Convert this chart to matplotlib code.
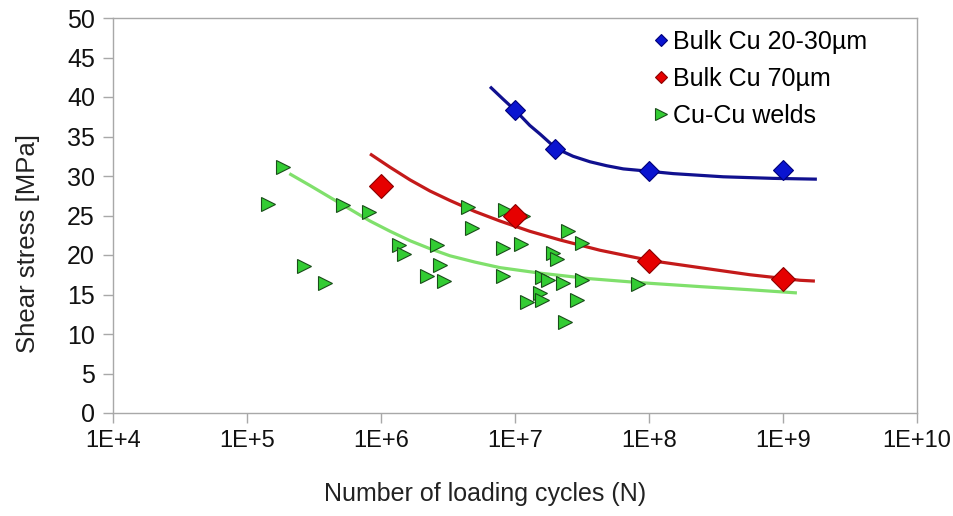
import math
import matplotlib
matplotlib.use("Agg")
import matplotlib.pyplot as plt
from matplotlib.lines import Line2D
from matplotlib.ticker import FixedLocator, FuncFormatter, NullLocator

plt.rcParams['font.family'] = ['Liberation Sans', 'DejaVu Sans']

# Measured fatigue data: cycles to failure vs. shear stress
bulk_fine_n = [1.0e7, 2.0e7, 1.0e8, 1.0e9]
bulk_fine_s = [38.3, 33.4, 30.6, 30.8]

bulk_coarse_n = [1.0e6, 1.0e7, 1.0e8, 1.0e9]
bulk_coarse_s = [28.7, 24.9, 19.3, 17.0]

welds_n = [1.44e5, 1.87e5, 2.66e5, 3.82e5, 5.23e5, 8.18e5, 1.37e6, 1.48e6,
           2.22e6, 2.60e6, 2.75e6, 2.95e6, 4.48e6, 4.80e6, 8.35e6, 8.18e6,
           8.18e6, 1.10e7, 1.14e7, 1.23e7, 1.54e7, 1.58e7, 1.59e7, 1.76e7,
           1.93e7, 2.06e7, 2.29e7, 2.36e7, 2.49e7, 2.89e7, 3.15e7, 3.15e7,
           8.32e7]
welds_s = [26.4, 31.1, 18.6, 16.5, 26.3, 25.5, 21.3, 20.1,
           17.3, 21.3, 18.7, 16.7, 26.1, 23.4, 25.7, 20.9,
           17.4, 21.4, 24.9, 14.1, 15.2, 14.3, 17.2, 16.8,
           20.3, 19.5, 16.4, 11.5, 23.1, 14.3, 21.5, 16.8,
           16.3]

# Trend curves
trend_fine_n = [6.51e6, 8.18e6, 1.02e7, 1.29e7, 1.54e7, 2.02e7, 2.71e7, 3.63e7,
                4.83e7, 6.43e7, 1.0e8, 1.52e8, 3.58e8, 8.47e8, 1.79e9]
trend_fine_s = [41.3, 39.7, 38.2, 36.4, 35.3, 33.5, 32.5, 31.8,
                31.3, 30.9, 30.6, 30.3, 29.9, 29.7, 29.6]

trend_coarse_n = [8.28e5, 1.17e6, 1.65e6, 2.32e6, 3.27e6, 5.03e6, 7.73e6,
                  1.29e7, 2.17e7, 4.31e7, 1.02e8, 2.4e8, 5.67e8, 1.34e9, 1.73e9]
trend_coarse_s = [32.8, 31.1, 29.5, 28.1, 26.9, 25.5, 24.3,
                  23.0, 21.9, 20.6, 19.3, 18.4, 17.5, 16.8, 16.7]

trend_welds_n = [2.07e5, 2.95e5, 4.16e5, 5.87e5, 8.28e5, 1.17e6, 1.65e6,
                 2.32e6, 3.27e6, 5.03e6, 7.73e6, 1.54e7, 3.63e7, 8.57e7,
                 2.4e8, 5.67e8, 1.27e9]
trend_welds_s = [30.3, 28.8, 27.3, 25.8, 24.3, 23.0, 21.8,
                 20.8, 19.9, 19.1, 18.4, 17.7, 17.0, 16.5,
                 16.0, 15.6, 15.2]

x_ticks = [1e4, 1e5, 1e6, 1e7, 1e8, 1e9, 1e10]
y_ticks = [0, 5, 10, 15, 20, 25, 30, 35, 40, 45, 50]

W, H = 954, 516
fig = plt.figure(figsize=(W / 100, H / 100), dpi=100)
ax = fig.add_axes([113 / W, 1 - 413 / H, (917 - 113) / W, (413 - 18) / H])

line_kw = dict(lw=2.3, solid_joinstyle='round', solid_capstyle='butt', zorder=2)
ax.plot(trend_welds_n, trend_welds_s, color='#80e06c', **line_kw)
ax.plot(trend_coarse_n, trend_coarse_s, color='#c41a1a', **line_kw)
ax.plot(trend_fine_n, trend_fine_s, color='#10108f', **line_kw)

green_kw = dict(marker='>', markerfacecolor='#33cc33', markeredgecolor='#1a4d1a',
                markeredgewidth=0.8, linestyle='none')
red_kw = dict(marker='D', markerfacecolor='#e60000', markeredgecolor='#8b0000',
              markeredgewidth=0.8, linestyle='none')
blue_kw = dict(marker='D', markerfacecolor='#0a14d0', markeredgecolor='#00007a',
               markeredgewidth=0.8, linestyle='none')

ax.plot(welds_n, welds_s, markersize=9.5, zorder=3, **green_kw)
ax.plot(bulk_coarse_n, bulk_coarse_s, markersize=12.5, zorder=4, **red_kw)
ax.plot(bulk_fine_n, bulk_fine_s, markersize=10, zorder=4, **blue_kw)

ax.set_xscale('log')
ax.set_xlim(1e4, 1e10)
ax.set_ylim(0, 50)
ax.xaxis.set_major_locator(FixedLocator(x_ticks))
ax.xaxis.set_minor_locator(NullLocator())
ax.xaxis.set_major_formatter(FuncFormatter(lambda v, p: '1E+%d' % round(math.log10(v))))
ax.yaxis.set_major_locator(FixedLocator(y_ticks))

for side in ['top', 'right', 'left', 'bottom']:
    ax.spines[side].set_color('#a8a8a8')
    ax.spines[side].set_linewidth(1.0)

ax.tick_params(axis='both', colors='#a8a8a8', labelcolor='#111111', width=1.0)
ax.tick_params(axis='x', length=7, pad=5, labelsize=17)
ax.tick_params(axis='y', length=7, pad=6, labelsize=18)

ax.set_xlabel('Number of loading cycles (N)', fontsize=18, color='#222222')
ax.xaxis.set_label_coords((485 - 113) / 804, (413 - 482) / 395)
ax.set_ylabel('Shear stress [MPa]', fontsize=18.5, color='#222222')
ax.yaxis.set_label_coords((40 - 113) / 804, (413 - 243.5) / 395)

handles = [Line2D([], [], markersize=6.5, **blue_kw),
           Line2D([], [], markersize=6.5, **red_kw),
           Line2D([], [], markersize=8.5, **green_kw)]
labels = ['Bulk Cu 20-30\u00b5m', 'Bulk Cu 70\u00b5m', 'Cu-Cu welds']
fig.legend(handles, labels, loc='upper left',
           bbox_to_anchor=(655 / W, 1 - 30 / H), frameon=False,
           fontsize=18, handlelength=0.5, handletextpad=0.22,
           labelspacing=0.52, borderaxespad=0, borderpad=0)

fig.savefig('out.png', dpi=100, facecolor='white')
